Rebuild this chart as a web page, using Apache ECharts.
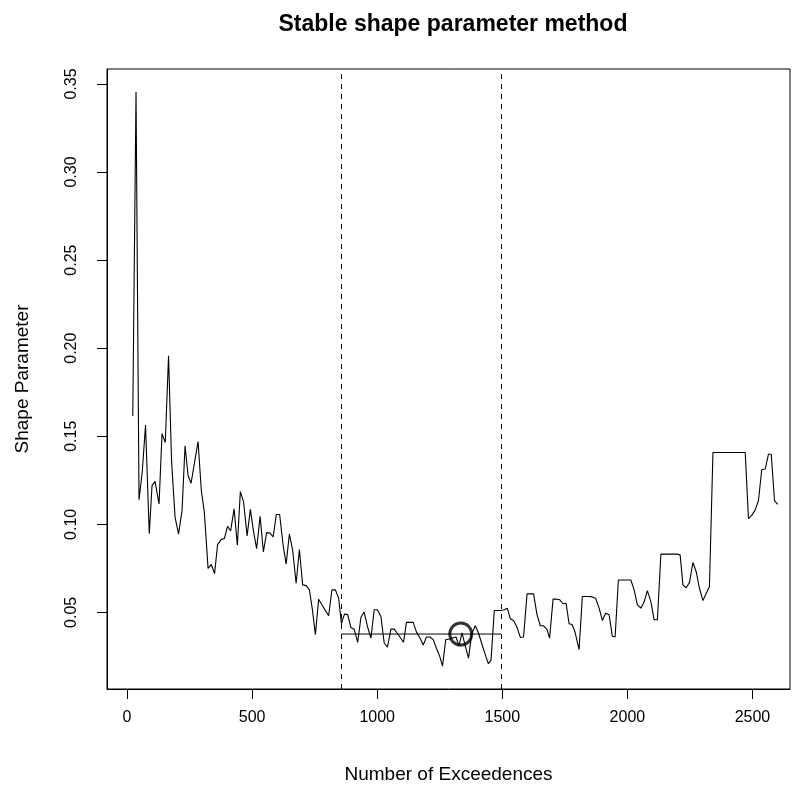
<!DOCTYPE html>
<html>
<head>
<meta charset="utf-8">
<script src="https://cdn.jsdelivr.net/npm/echarts@6/dist/echarts.min.js"></script>
<style>html,body{margin:0;padding:0;background:#fff;}#c{width:795px;height:789px;}</style>
</head>
<body>
<div id="c"></div>
<script>
// Number of exceedences (x) and shape parameter estimates (y)
var xVals = [23,36,48,61,74,89,100,112,128,140,
153,166,178,192,206,220,232,244,256,270,
284,297,309,324,337,350,362,376,389,402,
414,428,441,453,466,480,493,505,518,532,
545,558,572,584,597,610,624,636,649,662,
676,689,702,716,729,741,753,766,779,793,
806,819,833,846,857,869,882,895,908,922,
935,948,961,975,988,1001,1015,1028,1041,1055,
1068,1081,1095,1105,1117,1131,1144,1157,1171,1184,
1197,1211,1224,1237,1250,1261,1274,1288,1301,1315,
1327,1339,1352,1365,1378,1392,1405,1418,1432,1444,
1455,1468,1481,1495,1508,1520,1532,1545,1559,1572,
1585,1599,1612,1625,1639,1652,1665,1679,1689,1703,
1716,1729,1743,1755,1767,1779,1791,1807,1820,1833,
1847,1860,1873,1887,1900,1913,1927,1940,1951,1964,
1977,1990,2003,2014,2027,2040,2054,2067,2080,2094,
2107,2120,2134,2147,2160,2174,2187,2200,2211,2222,
2235,2248,2262,2275,2288,2302,2315,2328,2342,2355,
2368,2382,2395,2408,2422,2435,2448,2462,2471,2484,
2497,2511,2524,2537,2551,2564,2575,2588,2601];
var yVals = [0.1615,0.3455,0.1139,0.130,0.1564,0.0947,0.122,0.1244,0.1116,0.1515,
0.1464,0.1957,0.136,0.1041,0.0944,0.1079,0.1446,0.1277,0.1233,0.1352,
0.147,0.1192,0.1069,0.075,0.0772,0.072,0.0885,0.0913,0.0919,0.0989,
0.0962,0.1088,0.0881,0.1186,0.1126,0.0934,0.1085,0.0966,0.0862,0.1045,
0.0844,0.0953,0.095,0.0928,0.1056,0.1056,0.0881,0.0774,0.0944,0.0853,
0.0665,0.0857,0.0656,0.0652,0.0628,0.0515,0.0374,0.0575,0.0543,0.051,
0.0481,0.0628,0.0628,0.058,0.0436,0.049,0.0488,0.0414,0.0404,0.033,
0.0472,0.0502,0.042,0.0354,0.0515,0.0515,0.0475,0.0326,0.0303,0.0406,
0.0405,0.038,0.0352,0.033,0.0443,0.0443,0.0443,0.0388,0.0355,0.0315,
0.036,0.036,0.0345,0.0295,0.025,0.0195,0.0345,0.0349,0.0355,0.036,
0.031,0.0383,0.031,0.024,0.038,0.0424,0.0383,0.0322,0.026,0.0209,
0.0228,0.0511,0.0511,0.0511,0.0515,0.0524,0.0464,0.0454,0.0415,0.0358,
0.036,0.0605,0.0605,0.0605,0.0486,0.0424,0.0424,0.0402,0.0354,0.0575,
0.0575,0.0572,0.0549,0.0552,0.0436,0.0431,0.0387,0.0289,0.059,0.059,
0.059,0.0588,0.058,0.0524,0.0454,0.0495,0.0486,0.0364,0.036,0.0684,
0.0684,0.0684,0.0684,0.0684,0.0628,0.0543,0.0524,0.056,0.0624,0.056,
0.0458,0.0458,0.0831,0.0831,0.0831,0.0831,0.0831,0.0831,0.0825,0.0656,
0.064,0.0669,0.0783,0.0731,0.0637,0.0567,0.0608,0.0646,0.1408,0.1408,
0.1408,0.1408,0.1408,0.1408,0.1408,0.1408,0.1408,0.1408,0.1408,0.1032,
0.1051,0.1082,0.1135,0.131,0.1314,0.1398,0.1398,0.1135,0.1113];

// stable region bounds, stable shape estimate and chosen point
var stableBounds = [857, 1495];
var stableShape = 0.0377;
var chosenX = 1334;

// tick labels
var xTicks = [0, 500, 1000, 1500, 2000, 2500];
var yTicks = [0.05, 0.10, 0.15, 0.20, 0.25, 0.30, 0.35];

var FONT = "'Liberation Sans', Arial, Helvetica, sans-serif";
var lineData = xVals.map(function (x, i) { return [x, yVals[i]]; });

var chart = echarts.init(document.getElementById('c'), null, {renderer: 'canvas'});
chart.setOption({
  animation: false,
  backgroundColor: '#fff',
  title: {
    text: 'Stable shape parameter method',
    left: 448, top: 8, textAlign: 'center',
    textStyle: {fontFamily: FONT, fontWeight: 'bold', fontSize: 23, color: '#000'}
  },
  grid: {left: 107, right: 5, top: 69, bottom: 96, show: true, borderColor: '#000', borderWidth: 1, backgroundColor: 'transparent'},
  xAxis: {
    type: 'value', min: -80, max: 2650,
    name: 'Number of Exceedences', nameLocation: 'middle', nameGap: 76,
    nameTextStyle: {fontFamily: FONT, fontSize: 19, color: '#000'},
    axisLine: {show: true, onZero: false, lineStyle: {color: '#000', width: 1}},
    axisTick: {show: true, length: 10, inside: false, customValues: xTicks, lineStyle: {color: '#000', width: 1}},
    axisLabel: {show: true, customValues: xTicks, margin: 21, fontFamily: FONT, fontSize: 16, color: '#000',
      formatter: function (v) { return String(v); }},
    splitLine: {show: false}
  },
  yAxis: {
    type: 'value', min: 0.0065, max: 0.3585,
    name: 'Shape Parameter', nameLocation: 'middle', nameGap: 75, nameRotate: 90,
    nameTextStyle: {fontFamily: FONT, fontSize: 19, color: '#000'},
    axisLine: {show: true, onZero: false, lineStyle: {color: '#000', width: 1}},
    axisTick: {show: true, length: 10, inside: false, customValues: yTicks, lineStyle: {color: '#000', width: 1}},
    axisLabel: {show: true, customValues: yTicks, rotate: 90, margin: 27, fontFamily: FONT, fontSize: 16, color: '#000',
      formatter: function (v) { return v.toFixed(2); }},
    splitLine: {show: false}
  },
  series: [
    {
      type: 'line', data: lineData, symbol: 'none', silent: true,
      lineStyle: {color: '#000', width: 1.1},
      markLine: {
        symbol: 'none', silent: true, label: {show: false},
        lineStyle: {color: '#000', width: 1, type: [5, 5]},
        data: stableBounds.map(function (b) { return {xAxis: b}; })
      }
    },
    {
      type: 'line', symbol: 'none', silent: true,
      data: [[stableBounds[0], stableShape], [stableBounds[1], stableShape]],
      lineStyle: {color: '#000', width: 1}
    },
    {
      type: 'scatter', silent: true,
      data: [[chosenX, stableShape]],
      symbol: 'circle', symbolSize: 22,
      itemStyle: {color: 'rgba(0,0,0,0)', borderColor: '#000', borderWidth: 3}
    }
  ]
});
</script>
</body>
</html>
